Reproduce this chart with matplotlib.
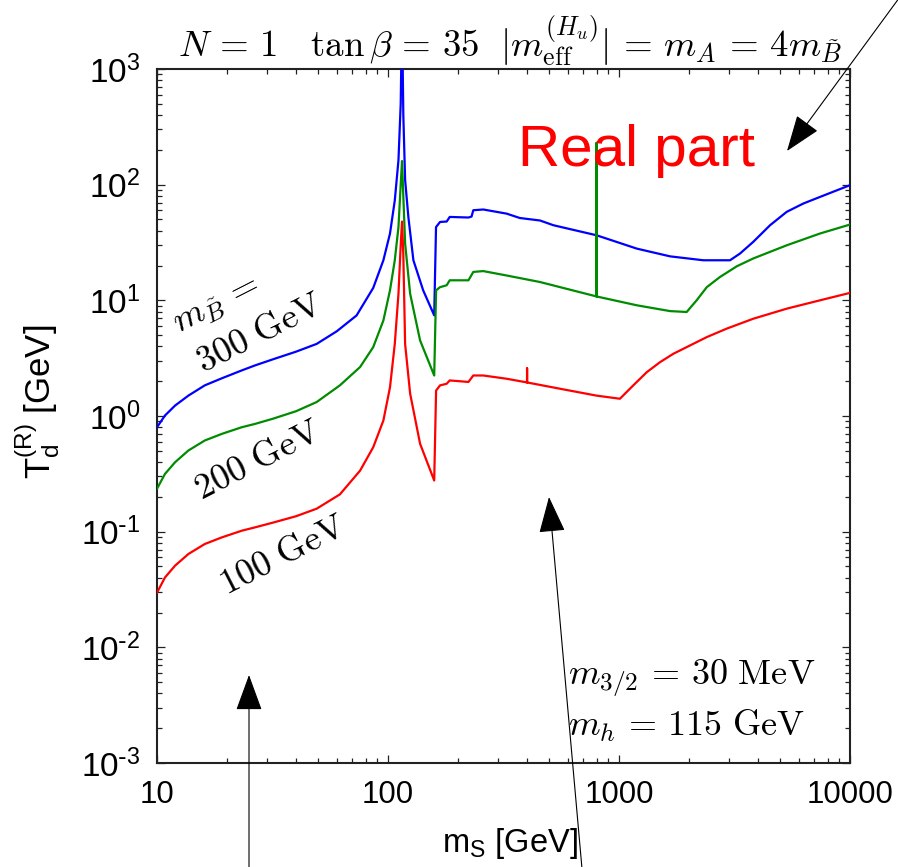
import matplotlib
matplotlib.use("Agg")
import matplotlib.pyplot as plt
from matplotlib.ticker import FixedLocator, LogLocator, NullFormatter

plt.rcParams['font.family'] = ['Liberation Sans', 'DejaVu Sans']
plt.rcParams['mathtext.fontset'] = 'cm'

# m_S grid [GeV] and decay temperature T_d^(R) [GeV] for each bino mass
ms_300 = [10, 10.83, 11.97, 13.67, 16.1, 19.1, 23.3, 26.6, 31.9, 40, 49.1, 60, 73.1, 86.3,
          95.5, 102, 107, 111, 113.5, 115, 116.5, 118.6, 122.5, 128.8, 142, 158.5, 161.4,
          168, 179.5, 185, 223, 230, 234, 258.5, 326, 372, 455, 520, 800, 1194, 1664,
          2318, 3024, 3342, 3810, 4508, 5320, 6280, 7410, 10000]
td_300 = [0.80, 1.01, 1.23, 1.50, 1.84, 2.12, 2.48, 2.74, 3.1, 3.6, 4.2, 5.4, 7.4, 12.8,
          22.2, 37.8, 73, 163, 500, 3000, 400, 110, 52.6, 22.2, 12.2, 7.41, 43,
          47.6, 48, 52.6, 52, 53, 60.1, 61, 56.2, 51.5, 49, 44.6, 36.5, 28, 24,
          22.2, 22.2, 25.4, 32, 44.6, 58.2, 68.7, 78.3, 99]

ms_200 = [10, 10.83, 11.97, 13.67, 16.1, 19.1, 23.3, 26.6, 31.9, 40, 49.1, 61.9, 75.7, 86.3,
          95.5, 102, 107, 111, 113.5, 115, 116.5, 118.6, 124.7, 137.7, 158.5, 161.5, 168,
          179.5, 185, 223, 234, 258.5, 326, 455, 556, 800, 800, 800, 1194, 1664, 1963,
          2168, 2399, 2734, 3236, 3810, 5320, 7410, 10000]
td_200 = [0.235, 0.316, 0.398, 0.503, 0.614, 0.701, 0.80, 0.855, 0.95, 1.1, 1.32, 1.84, 2.65, 3.94,
          6.7, 12.2, 22.2, 43, 100, 160, 80, 31, 11.4, 4.5, 2.24, 12.2, 13,
          13.5, 14.9, 14.9, 17.6, 17.9, 16.4, 14.4, 13.0, 10.8, 230, 10.8, 9.06, 8.07, 7.93,
          10, 13.0, 15.9, 19.7, 23, 29.9, 37.8, 45.2]

ms_100 = [10, 10.83, 11.97, 13.67, 16.1, 19.1, 23.3, 26.6, 31.9, 40, 49.1, 61.9, 75.7, 86.3,
          95.5, 102, 107, 111, 113.5, 115, 116.5, 118.6, 124.7, 137.7, 158.5, 161.5, 168,
          179.5, 185, 223, 234, 258.5, 326, 400, 400, 400, 556, 800, 1009, 1153, 1318,
          1505, 1718, 1963, 2399, 2924, 3810, 5320, 7410, 10000]
td_100 = [0.0297, 0.0402, 0.0508, 0.0641, 0.0782, 0.0893, 0.102, 0.109, 0.12, 0.136, 0.158, 0.21, 0.337, 0.537,
          0.914, 1.77, 4.2, 11.4, 30, 48, 25, 4.2, 1.56, 0.575, 0.277, 1.66, 1.84,
          1.9, 2.03, 1.97, 2.24, 2.24, 2.1, 1.95, 2.58, 1.95, 1.72, 1.5, 1.41, 1.84, 2.39,
          2.92, 3.45, 3.94, 4.81, 5.69, 6.93, 8.47, 10, 11.6]

x_ticks = [10, 100, 1000, 10000]
x_tick_labels = ['10', '100', '1000', '10000']
y_ticks = [1e-3, 1e-2, 1e-1, 1e0, 1e1, 1e2, 1e3]
y_tick_labels = [r'$\mathregular{10^{\text{-}3}}$', r'$\mathregular{10^{\text{-}2}}$',
                 r'$\mathregular{10^{\text{-}1}}$', r'$\mathregular{10^{0}}$',
                 r'$\mathregular{10^{1}}$', r'$\mathregular{10^{2}}$', r'$\mathregular{10^{3}}$']

W, H = 898, 867
fig = plt.figure(figsize=(W / 100, H / 100), dpi=100)
ax = fig.add_axes([157 / W, 1 - 763 / H, (850 - 157) / W, (763 - 69) / H])


def fx(px):
    return px / W


def fy(py):
    return 1 - py / H


ax.plot(ms_300, td_300, color='#0000ff', lw=1.6, zorder=3)
ax.plot(ms_200, td_200, color='#008c00', lw=1.6, zorder=4)
ax.plot(ms_100, td_100, color='#ff0000', lw=1.6, zorder=5)

ax.set_xscale('log')
ax.set_yscale('log')
ax.set_xlim(10, 10000)
ax.set_ylim(1e-3, 1e3)

ax.xaxis.set_major_locator(FixedLocator(x_ticks))
ax.set_xticklabels(x_tick_labels)
ax.yaxis.set_major_locator(FixedLocator(y_ticks))
ax.set_yticklabels(y_tick_labels)
ax.xaxis.set_minor_locator(LogLocator(base=10, subs=range(2, 10), numticks=20))
ax.yaxis.set_minor_locator(LogLocator(base=10, subs=range(2, 10), numticks=20))
ax.xaxis.set_minor_formatter(NullFormatter())
ax.yaxis.set_minor_formatter(NullFormatter())

ax.tick_params(which='both', direction='in', top=True, right=True, width=0.9, color='#222222')
ax.tick_params(which='major', length=6)
ax.tick_params(which='minor', length=3.5)
ax.tick_params(axis='x', which='major', labelsize=22.5, pad=12)
ax.tick_params(axis='y', which='major', labelsize=24, pad=12)
for sp in ax.spines.values():
    sp.set_linewidth(1.5)
    sp.set_color('#222222')

ax.set_xlabel(r'$\mathregular{m_S}$ [GeV]', fontsize=23.5)
ax.xaxis.set_label_coords((510 - 157) / 693, (763 - 826) / 694)
ax.xaxis.label.set_va('top')
ax.set_ylabel(r'$\mathregular{T_d^{(R)}}$ [GeV]', fontsize=25)
ax.yaxis.set_label_coords((62 - 157) / 693, (763 - 402) / 694)

# header line
fig.text(fx(510), fy(57),
         r'$N\,=\,1\ \ \ \tan\beta\,=\,35\ \ |m_{\rm eff}^{(H_u)}|\,=\,m_A\,=\,4m_{\tilde{B}}$',
         fontsize=26.5, ha='center', va='baseline')

fig.text(fx(518), fy(166), 'Real part', fontsize=42, color='red', ha='left', va='baseline')

# curve labels
fig.text(fx(216), fy(304), r'$m_{\tilde{B}}\,=$', fontsize=26, rotation=27,
         ha='center', va='center', rotation_mode='anchor')
fig.text(fx(260), fy(334), r'$\mathrm{300\ GeV}$', fontsize=26, rotation=27,
         ha='center', va='center', rotation_mode='anchor')
fig.text(fx(258), fy(461), r'$\mathrm{200\ GeV}$', fontsize=26, rotation=27,
         ha='center', va='center', rotation_mode='anchor')
fig.text(fx(283), fy(556), r'$\mathrm{100\ GeV}$', fontsize=26, rotation=27,
         ha='center', va='center', rotation_mode='anchor')

fig.text(fx(568), fy(684), r'$m_{3/2}\,=\,30\ \mathrm{MeV}$', fontsize=26, ha='left', va='baseline')
fig.text(fx(568), fy(736), r'$m_h\,=\,115\ \mathrm{GeV}$', fontsize=26, ha='left', va='baseline')

# pointer arrows
arrow_kw = dict(arrowstyle='-|>,head_length=1.15,head_width=0.42', mutation_scale=20,
                lw=0.8, color='black', shrinkA=0, shrinkB=0)
for tail, tip in [((905, -10), (787, 151)), ((249, 880), (249, 675)), ((583, 880), (549, 497))]:
    ax.annotate('', xy=(fx(tip[0]), fy(tip[1])), xycoords='figure fraction',
                xytext=(fx(tail[0]), fy(tail[1])), textcoords='figure fraction',
                arrowprops=arrow_kw, annotation_clip=False, zorder=10)

fig.savefig('out.png', dpi=100)
